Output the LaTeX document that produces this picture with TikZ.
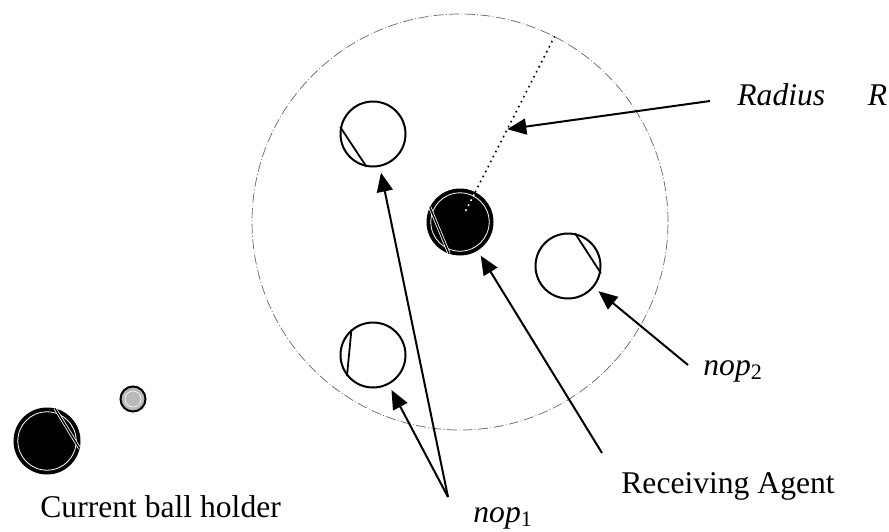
\documentclass[tikz,border=0pt]{standalone}
\usepackage{fontspec}
\setmainfont{Liberation Serif}
\usetikzlibrary{arrows.meta, calc}
\tikzset{
  % an opponent, open circle
  opp/.style   = {draw, circle, line width=1pt, minimum size=32.5pt,
                  inner sep=0pt},
  % a player of our own side
  mate/.style  = {opp, fill=black},
  % the chord drawn across a player
  chord/.style = {line width=0.9pt},
  % the white mark on a dark player
  wmark/.style = {white, line width=0.4pt, double=black, double distance=0.7pt},
  % the pass region round the receiver
  zone/.style  = {draw=gray!80!black, circle, line width=0.35pt,
                  dash pattern=on 5pt off 1.2pt on 0.4pt off 1.2pt,
                  minimum size=208pt, inner sep=0pt},
  % a pointer arrow
  arr/.style   = {-{Triangle[length=9.5pt,width=8pt]}, line width=1pt,
                  shorten >=3pt},
  % a label
  lbl/.style   = {font=\fontsize{15.8}{18}\selectfont, inner sep=0pt,
                  anchor=base west},
}
\newcommand{\nopl}[1]{\textit{nop}\textsubscript{#1}}

\begin{document}
\begin{tikzpicture}[x=0.5pt, y=-0.5pt]
  \useasboundingbox (0,0) rectangle (889,531);
  \node[zone] (zone) at (460,222) {};
  % players
  \node[mate] (recv) at (460,222) {};
  \node[opp]  (opa)  at (373,134) {};
  \node[opp]  (opb)  at (373,355) {};
  \node[opp]  (opc)  at (568,266) {};
  \node[mate] (hold) at (47,441)  {};
  \node[draw, circle, fill=gray!55, line width=1pt, minimum size=12.5pt,
        inner sep=0pt] (ball) at (133,399) {};
  \draw[chord] (opa.168) -- (opa.259);
  \draw[chord] (opb.130) -- (opb.219);
  \draw[chord] (opc.78)  -- (opc.348);
  \draw[white, line width=0.4pt] (recv) circle (14.6pt);
  \draw[wmark] (recv.154) -- (recv.251);
  \draw[white, line width=0.4pt] (hold) circle (14.6pt);
  \draw[wmark] (hold.76) -- (hold.347);
  \draw[white, line width=0.3pt] (ball) circle (4pt);
  % radius
  \coordinate (rin) at ($(recv)!0.06!(zone.63)$);
  \draw[white, dotted, line width=0.8pt] (rin) -- (recv.63);
  \draw[dotted, line width=0.8pt] (recv.63) -- (zone.63);
  \coordinate (rmid) at ($(recv)!0.5!(zone.63)$);
  % labels
  \node[lbl] (lrad)  at (737,105) {\textit{Radius\hspace{1.35em}R}};
  \node[lbl] (lnop2) at (703,375) {\nopl{2}};
  \node[lbl] (lrecv) at (621,493) {Receiving Agent};
  \node[lbl] (lnop1) at (473,522) {\nopl{1}};
  \node[lbl] (lhold) at (40,517)  {Current ball holder};
  % pointers
  \coordinate (trad)  at (710,101);
  \coordinate (tnop2) at (688,365);
  \coordinate (trecv) at (602,453);
  \coordinate (tnop1) at (448,497);
  \draw[arr, shorten >=0pt] (trad) -- (rmid);
  \draw[arr] (tnop2) -- (opc);
  \draw[arr] (trecv) -- (recv);
  \draw[arr] (tnop1) -- (opa);
  \draw[arr] (tnop1) -- (opb);
\end{tikzpicture}
\end{document}
